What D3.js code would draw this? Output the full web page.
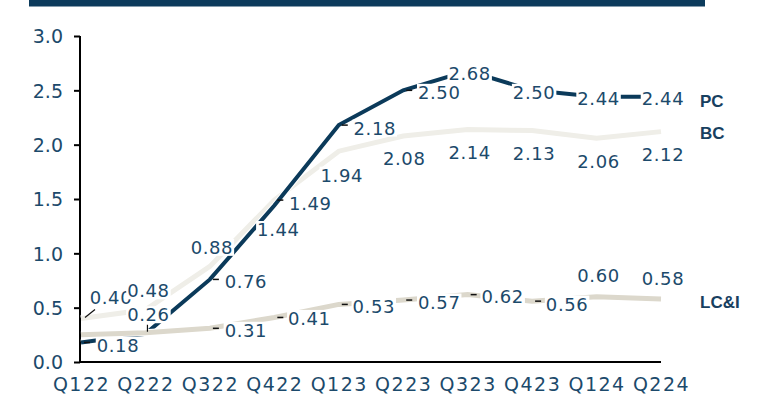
<!DOCTYPE html>
<html><head><meta charset="utf-8">
<script src="https://cdn.jsdelivr.net/npm/d3@7"></script>
<style>
html,body{margin:0;padding:0;background:#fff;}
svg{display:block;}
</style></head>
<body>
<svg id="chart" width="758" height="396"></svg>
<script>
// ---- data ----
const categories = ["Q122","Q222","Q322","Q422","Q123","Q223","Q323","Q423","Q124","Q224"];
const pcValues   = [0.18, 0.26, 0.76, 1.44, 2.18, 2.50, 2.68, 2.50, 2.44, 2.44];
const bcValues   = [0.40, 0.48, 0.88, 1.49, 1.94, 2.08, 2.14, 2.13, 2.06, 2.12];
const lciValues  = [0.25, 0.27, 0.31, 0.41, 0.53, 0.57, 0.62, 0.56, 0.60, 0.58];
const lciLabelShown = [false, false, true, true, true, true, true, true, true, true];
const yTicks = [0, 0.5, 1.0, 1.5, 2.0, 2.5, 3.0];
const seriesNames = ["PC", "BC", "LC&I"];

// ---- layout (label offsets relative to point: [dx, dy, leader]) ----
const pcLabelPos  = [[37,3,"h"],[3,-19,"v"],[36,2,"h"],[4,24,""],[36,3,"h"],[36,2,"h"],[2,3,""],[2,2,""],[2,2,""],[2,2,""]];
const bcLabelPos  = [[30,-21,"d"],[3,-19,""],[2,-19,""],[36,3,"h"],[3,24,""],[1,23,""],[2,23,""],[2,23,""],[2,23,""],[2,23,""]];
const lciLabelPos = [[0,0,""],[0,0,""],[36,2,"h"],[35,1,"h"],[35,2,"h"],[36,2,"h"],[35,2,"h"],[35,3,"h"],[2,-21,""],[2,-20,""]];

const textColor = "#1c4a6b";
const navy = "#0b3a5a";
const svg = d3.select("#chart");

// top bar
svg.append("rect").attr("x",29).attr("y",0).attr("width",676).attr("height",6.5).attr("fill","#0c3b5c");

const x = d3.scalePoint().domain(categories).range([81, 661]);
const y = d3.scaleLinear().domain([0, 3]).range([362, 36]);

const font = "DejaVu Sans, sans-serif";

// y axis
const yAxis = svg.append("g").attr("transform","translate(80,0)")
  .call(d3.axisLeft(y).tickValues(yTicks).tickFormat(d3.format(".1f")).tickSize(6).tickPadding(10));
yAxis.select(".domain").attr("stroke","#000").attr("stroke-width",2).attr("d","M0,36V363");
yAxis.selectAll(".tick line").attr("stroke","#000").attr("stroke-width",2);
yAxis.selectAll(".tick text").attr("fill",textColor).style("font-family",font).style("font-size","19px").attr("dy","0.36em").attr("dx","-1");

// x axis
const xAxis = svg.append("g").attr("transform","translate(0,362)")
  .call(d3.axisBottom(x).tickSize(0).tickPadding(0));
xAxis.select(".domain").attr("stroke","#000").attr("stroke-width",2).attr("d","M79,0H661");
xAxis.selectAll(".tick text").attr("fill",textColor).style("font-family",font).style("font-size","19px").style("letter-spacing","1.5px")
  .attr("y",22).attr("dy","0.36em");

// lines
const line = d3.line().x((d,i)=>x(categories[i])).y(d=>y(d));
const series = [
  {name:"BC", values:bcValues, color:"#efeee8", width:5, pos:bcLabelPos, show:bcValues.map(()=>true)},
  {name:"PC", values:pcValues, color:navy, width:4, pos:pcLabelPos, show:pcValues.map(()=>true)},
  {name:"LC&I", values:lciValues, color:"#dcd8cc", width:5, pos:lciLabelPos, show:lciLabelShown}
];
series.forEach(s=>{
  svg.append("path").datum(s.values).attr("d",line).attr("fill","none")
    .attr("stroke","#fff").attr("stroke-width",s.width+2).attr("stroke-linejoin","miter");
  svg.append("path").datum(s.values).attr("d",line).attr("fill","none")
    .attr("stroke",s.color).attr("stroke-width",s.width).attr("stroke-linejoin","miter");
});

// data labels
const labelOrder = [series[1], series[0], series[2]];
labelOrder.forEach(s=>{
  s.values.forEach((v,i)=>{
    if(!s.show[i]) return;
    const px = x(categories[i]), py = y(v);
    const [dx,dy,leader] = s.pos[i];
    const g = svg.append("g");
    const t = g.append("text").attr("x",px+dx).attr("y",py+dy).attr("dy","0.36em")
      .attr("text-anchor","middle").attr("fill",textColor)
      .style("font-family",font).style("font-size","18px").style("letter-spacing","0.6px")
      .text(d3.format(".2f")(v));
    const bb = t.node().getBBox();
    g.insert("rect","text").attr("x",bb.x-1).attr("y",bb.y+2).attr("width",bb.width+2).attr("height",bb.height-4).attr("fill","#fff");
    if(leader==="h"){
      svg.append("line").attr("x1",px+3).attr("x2",px+9).attr("y1",py).attr("y2",py).attr("stroke","#111").attr("stroke-width",1.5);
    } else if(leader==="v"){
      svg.append("line").attr("x1",px+2).attr("x2",px+2).attr("y1",py-9).attr("y2",py-2).attr("stroke","#111").attr("stroke-width",1.2);
    } else if(leader==="d"){
      svg.append("line").attr("x1",px+4).attr("x2",px+14).attr("y1",py-1).attr("y2",py-9).attr("stroke","#111").attr("stroke-width",1.2);
    }
  });
});

// series names at right
const nameY = [100.5, 133, 302];
seriesNames.forEach((n,i)=>{
  svg.append("text").attr("x",700).attr("y",nameY[i]).attr("dy","0.36em")
    .attr("fill","#17405f").style("font-family","Liberation Sans, Arial, sans-serif")
    .style("font-size","17px").style("font-weight","bold").text(n);
});
</script>
</body></html>
